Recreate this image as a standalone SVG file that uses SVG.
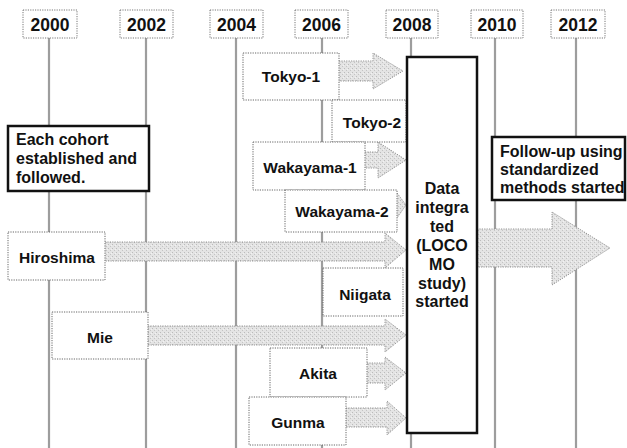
<svg xmlns="http://www.w3.org/2000/svg" width="627" height="448" viewBox="0 0 627 448">
<defs>
<pattern id="stip" width="4" height="4" patternUnits="userSpaceOnUse">
<rect width="4" height="4" fill="#e4e4e4"/>
<rect x="0" y="0" width="1" height="1" fill="#bbb"/>
<rect x="2" y="2" width="1" height="1" fill="#c4c4c4"/>
<rect x="3" y="1" width="1" height="1" fill="#f2f2f2"/>
</pattern>
</defs>
<style>
.yr{fill:#fff;stroke:#777;stroke-width:1;stroke-dasharray:1.2 1.2}
.tl{stroke:#9d9d9d;stroke-width:2.2;fill:none}
.nb{fill:#fff;stroke:#666;stroke-width:1;stroke-dasharray:1.2 1.2}
.ar{fill:url(#stip);stroke:#888;stroke-width:0.9;stroke-dasharray:1.2 1.2}
.bb{fill:#fff;stroke:#111;stroke-width:2.5}
text{font-family:"Liberation Sans",Arial,sans-serif;font-weight:bold;fill:#111}
.y{font-size:17.5px;text-anchor:middle}
.n{font-size:15.5px;text-anchor:middle}
.t{font-size:16px}
.c{font-size:16px;text-anchor:middle}
</style>
<rect width="627" height="448" fill="#fff"/>
<g id="timelines">
<line class="tl" x1="49" y1="38" x2="49" y2="448"/>
<line class="tl" x1="146" y1="38" x2="146" y2="448"/>
<line class="tl" x1="236" y1="38" x2="236" y2="448"/>
<line class="tl" x1="322" y1="38" x2="322" y2="448"/>
<line class="tl" x1="411" y1="38" x2="411" y2="448"/>
<line class="tl" x1="495" y1="38" x2="495" y2="448"/>
<line class="tl" x1="576" y1="38" x2="576" y2="448"/>
</g>
<g id="years">
<g id="y2000"><rect class="yr" x="23" y="10" width="54" height="28"/><text class="y" x="50" y="30.5">2000</text></g>
<g id="y2002"><rect class="yr" x="120" y="10" width="53" height="28"/><text class="y" x="146.5" y="30.5">2002</text></g>
<g id="y2004"><rect class="yr" x="210" y="10" width="53" height="28"/><text class="y" x="236.5" y="30.5">2004</text></g>
<g id="y2006"><rect class="yr" x="295" y="10" width="53" height="28"/><text class="y" x="321.5" y="30.5">2006</text></g>
<g id="y2008"><rect class="yr" x="386" y="10" width="52" height="28"/><text class="y" x="412" y="30.5">2008</text></g>
<g id="y2010"><rect class="yr" x="471" y="10" width="52" height="28"/><text class="y" x="497" y="30.5">2010</text></g>
<g id="y2012"><rect class="yr" x="551" y="10" width="54" height="28"/><text class="y" x="578" y="30.5">2012</text></g>
</g>
<g id="connectors">
<path class="ar" d="M339,61 L373,61 L373,53 L403,71 L373,89 L373,81 L339,81"/>
<path class="ar" d="M365,152 L378,152 L378,142 L406,160 L378,178 L378,168 L365,168"/>
<path class="ar" d="M397,193 L406,205 L397,218"/>
<path class="ar" d="M105,242 L385,242 L385,233 L406,250 L385,268 L385,261 L105,261"/>
<path class="ar" d="M148,326 L385,326 L385,319 L406,335 L385,352 L385,345 L148,345"/>
<path class="ar" d="M367,363 L385,363 L385,357 L406,373 L385,390 L385,383 L367,383"/>
<path class="ar" d="M346,408 L387,408 L387,401 L406,418 L387,435 L387,427 L346,427"/>
<path class="ar" d="M477,229 L552,229 L552,212 L610,248 L552,285 L552,267 L477,267"/>
</g>
<g id="tokyo1"><rect class="nb" x="243" y="53" width="96" height="47"/><text class="n" x="291" y="82">Tokyo-1</text></g>
<g id="tokyo2"><rect class="nb" x="332" y="100" width="74" height="42"/><text class="n" x="372" y="127.5">Tokyo-2</text></g>
<g id="wakayama1"><rect class="nb" x="253" y="142" width="112" height="48"/><text class="n" x="310" y="172.5">Wakayama-1</text></g>
<g id="wakayama2"><rect class="nb" x="285" y="190" width="112" height="42"/><text class="n" x="342" y="216.5">Wakayama-2</text></g>
<g id="hiroshima"><rect class="nb" x="8" y="232" width="97" height="48"/><text class="n" x="57" y="262.5">Hiroshima</text></g>
<g id="niigata"><rect class="nb" x="323" y="268" width="80" height="48"/><text class="n" x="365" y="299.5">Niigata</text></g>
<g id="mie"><rect class="nb" x="52" y="312" width="96" height="47"/><text class="n" x="100" y="342.5">Mie</text></g>
<g id="akita"><rect class="nb" x="270" y="348" width="97" height="49"/><text class="n" x="318" y="378.5">Akita</text></g>
<g id="gunma"><rect class="nb" x="249" y="397" width="97" height="48"/><text class="n" x="298" y="427.5">Gunma</text></g>
<g id="cohort"><rect class="bb" x="8" y="126" width="141" height="65"/>
<text class="t" x="16" y="145">Each cohort</text>
<text class="t" x="16" y="164">established and</text>
<text class="t" x="16" y="183">followed.</text></g>
<g id="followup"><rect class="bb" x="492" y="137" width="133" height="63"/>
<text class="t" x="500" y="157">Follow-up using</text>
<text class="t" x="500" y="175">standardized</text>
<text class="t" x="500" y="193">methods started</text></g>
<g id="data"><rect class="bb" x="407" y="57" width="70" height="376"/>
<text class="c" x="442" y="194">Data</text>
<text class="c" x="442" y="213">integra</text>
<text class="c" x="442" y="232">ted</text>
<text class="c" x="442" y="251">(LOCO</text>
<text class="c" x="442" y="270">MO</text>
<text class="c" x="442" y="289">study)</text>
<text class="c" x="442" y="307">started</text></g>
</svg>
